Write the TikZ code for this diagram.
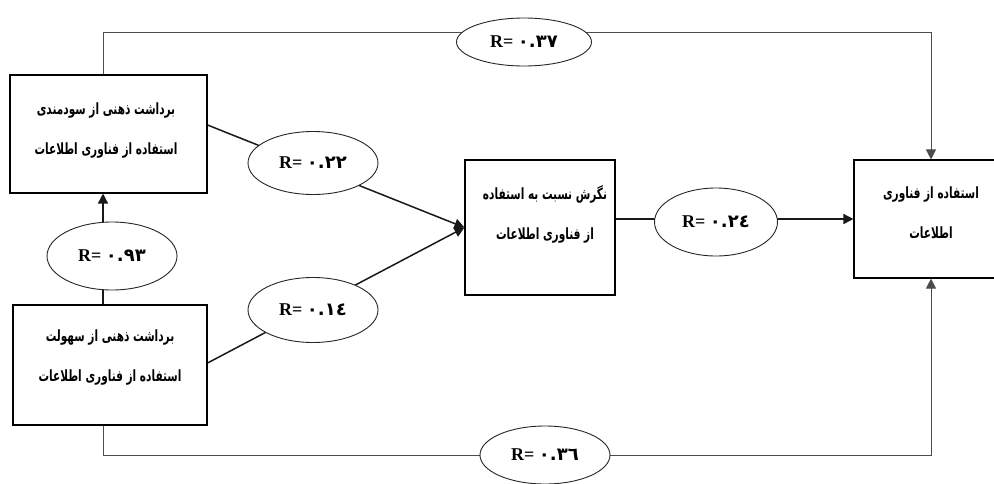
\documentclass[tikz,border=0pt]{standalone}
\usepackage{fontspec}
\setmainfont{Liberation Serif}
\newfontfamily\arabicfont[Script=Arabic]{DejaVu Sans}
\newfontfamily\boxfont[Script=Arabic,FakeStretch=0.68]{DejaVu Sans}
\TeXXeTstate=1
\usetikzlibrary{shapes.geometric,arrows.meta}
\newcommand\rlab[1]{R= {\arabicfont #1}}
\begin{document}
\begin{tikzpicture}[x=1pt,y=-1pt,
  boxnode/.style={draw=black,line width=1.1pt,minimum width=#1,inner sep=0pt},
  boxtext/.style={align=center,font=\boxfont\bfseries\fontsize{15.5}{40}\selectfont},
  ell/.style={ellipse,draw=black!85,line width=0.9pt,fill=white,inner sep=0pt,
    font=\bfseries\fontsize{18}{20}\selectfont},
  conn/.style={line width=1.5pt,draw=black!90},
  longline/.style={line width=1pt,draw=black!70},
  tip/.style={-{Triangle[length=10pt,width=10pt]}}
]
\useasboundingbox (0,0) rectangle (994,483);

% boxes
\node[boxnode=197pt,minimum height=118pt] (b1) at (108.5,134) {};
\node[boxnode=194pt,minimum height=120pt] (b2) at (110,365) {};
\node[boxnode=150pt,minimum height=135pt] (b3) at (540,227.5) {};
\node[boxnode=154pt,minimum height=118pt] (b4) at (931,219) {};

% box texts
\node[boxtext] (b1t) at (106,130) {\beginR برداشت ذهنی از سودمندی\endR\\\beginR استفاده از فناوری اطلاعات\endR};
\node[boxtext] (b2t) at (110,357) {\beginR برداشت ذهنی از سهولت\endR\\\beginR استفاده از فناوری اطلاعات\endR};
\node[boxtext] (b3t) at (545,214) {\beginR نگرش نسبت به استفاده\endR\\\beginR از فناوری اطلاعات\endR};
\node[boxtext] (b4t) at (931,213) {\beginR استفاده از فناوری\endR\\\beginR اطلاعات\endR};

% connectors
\draw[longline,tip] ([xshift=-5.5pt]b1.north) -- ++(0,-42) -| (b4.north);
\draw[longline,tip] ([xshift=-7pt]b2.south) -- ++(0,30) -| (b4.south);
\draw[conn,tip] ([xshift=-7pt]b2.north) -- ([xshift=-7pt]b2.north |- b1.south);
\draw[conn,tip] ([yshift=9pt]b1.east) -- (b3.west);
\draw[conn,tip] ([yshift=2pt]b2.east) -- (b3.west);
\draw[conn,tip] (b3.east |- b4.west) -- (b4.west);

% ellipses
\node[ell,minimum width=135pt,minimum height=48pt] (e37) at (524,42) {\rlab{٠.٣٧}};
\node[ell,minimum width=130pt,minimum height=63pt] (e22) at (313,163) {\rlab{٠.٢٢}};
\node[ell,minimum width=130pt,minimum height=68pt] (e93) at (112,256) {\rlab{٠.٩٣}};
\node[ell,minimum width=130pt,minimum height=65pt] (e14) at (313,310) {\rlab{٠.١٤}};
\node[ell,minimum width=123pt,minimum height=68pt] (e24) at (716,222) {\rlab{٠.٢٤}};
\node[ell,minimum width=130pt,minimum height=58pt] (e36) at (545,455) {\rlab{٠.٣٦}};
\end{tikzpicture}
\end{document}
